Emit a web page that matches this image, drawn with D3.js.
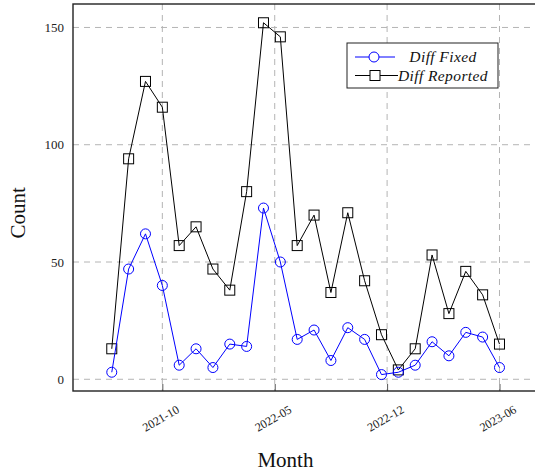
<!DOCTYPE html>
<html>
<head>
<meta charset="utf-8">
<script src="https://cdn.jsdelivr.net/npm/d3@7"></script>
<style>
  body { margin: 0; background: #fff; }
  svg { display: block; font-family: "Liberation Serif", "DejaVu Serif", serif; }
</style>
</head>
<body>
<div class="chart"></div>
<script>
////////////////////////////////// data

// one value per month, 2021-07 .. 2023-06
var months = ["2021-07","2021-08","2021-09","2021-10","2021-11","2021-12",
              "2022-01","2022-02","2022-03","2022-04","2022-05","2022-06",
              "2022-07","2022-08","2022-09","2022-10","2022-11","2022-12",
              "2023-01","2023-02","2023-03","2023-04","2023-05","2023-06"];
var diffFixed    = [3, 47, 62, 40, 6, 13, 5, 15, 14, 73, 50, 17,
                    21, 8, 22, 17, 2, 3, 6, 16, 10, 20, 18, 5];
var diffReported = [13, 94, 127, 116, 57, 65, 47, 38, 80, 152, 146, 57,
                    70, 37, 71, 42, 19, 4, 13, 53, 28, 46, 36, 15];
var xTickLabels = ["2021-10", "2022-05", "2022-12", "2023-06"];
var yTicks = [0, 50, 100, 150];
var seriesNames = ["Diff Fixed", "Diff Reported"];

////////////////////////////////// chart

var width = 535, height = 475;
var margin = { top: 4, right: -10, bottom: 84, left: 73 };
var plotW = width - margin.left - margin.right;
var plotH = height - margin.top - margin.bottom;

var svg = d3.select(".chart").append("svg")
    .attr("width", width).attr("height", height);

var g = svg.append("g")
    .attr("transform", "translate(" + margin.left + "," + margin.top + ")");

var x = d3.scaleLinear().domain([-2.3, 25.7]).range([0, plotW]);
var y = d3.scaleLinear().domain([-5, 160]).range([plotH, 0]);

// x ticks spread evenly from the first labelled month to the last
var firstIdx = months.indexOf(xTickLabels[0]);
var lastIdx = months.indexOf(xTickLabels[xTickLabels.length - 1]);
var xTicks = xTickLabels.map(function(d, i) {
    return firstIdx + i * (lastIdx - firstIdx) / (xTickLabels.length - 1);
});

// grid
g.selectAll(".hgrid").data(yTicks).enter().append("line")
    .attr("x1", 0).attr("x2", plotW)
    .attr("y1", function(d) { return y(d); }).attr("y2", function(d) { return y(d); })
    .style("stroke", "#b4b4b4").style("stroke-dasharray", "6,5");
g.selectAll(".vgrid").data(xTicks).enter().append("line")
    .attr("x1", function(d) { return x(d); }).attr("x2", function(d) { return x(d); })
    .attr("y1", 0).attr("y2", plotH)
    .style("stroke", "#b4b4b4").style("stroke-dasharray", "6,5");

// axes
var xAxis = g.append("g").attr("transform", "translate(0," + plotH + ")")
    .call(d3.axisBottom(x).tickValues(xTicks).tickSize(-7)
        .tickFormat(function(d, i) { return xTickLabels[i]; }));
xAxis.attr("font-family", null).attr("font-size", null);
xAxis.select(".domain").remove();
xAxis.selectAll(".tick line").style("stroke", "#555");
xAxis.selectAll("text")
    .style("font-size", "12px").style("fill", "#222")
    .attr("text-anchor", "middle")
    .attr("dy", null).attr("y", 0)
    .attr("transform", "translate(0,31) rotate(-30)");

var yAxis = g.append("g")
    .call(d3.axisLeft(y).tickValues(yTicks).tickSize(0).tickPadding(9));
yAxis.attr("font-family", null).attr("font-size", null);
yAxis.select(".domain").remove();
yAxis.selectAll("text").style("font-size", "13px").style("fill", "#222");

// frame
g.append("rect").attr("width", plotW).attr("height", plotH)
    .style("fill", "none").style("stroke", "#222").style("stroke-width", 1.4);

// series
var line = d3.line()
    .x(function(d, i) { return x(i); })
    .y(function(d) { return y(d); });

g.append("path").datum(diffReported).attr("d", line)
    .style("fill", "none").style("stroke", "#000").style("stroke-width", 1);
g.selectAll(".sq").data(diffReported).enter().append("rect")
    .attr("x", function(d, i) { return x(i) - 5; })
    .attr("y", function(d) { return y(d) - 5; })
    .attr("width", 10).attr("height", 10)
    .style("fill", "none").style("stroke", "#000").style("stroke-width", 1);

g.append("path").datum(diffFixed).attr("d", line)
    .style("fill", "none").style("stroke", "#0000ff").style("stroke-width", 1);
g.selectAll(".circ").data(diffFixed).enter().append("circle")
    .attr("cx", function(d, i) { return x(i); })
    .attr("cy", function(d) { return y(d); })
    .attr("r", 5)
    .style("fill", "none").style("stroke", "#0000ff").style("stroke-width", 1);

// axis titles
svg.append("text").attr("x", margin.left + x(10.3)).attr("y", 467)
    .attr("text-anchor", "middle").style("font-size", "21px").style("fill", "#111")
    .text("Month");
svg.append("text").attr("transform", "translate(25," + (margin.top + y(71)) + ") rotate(-90)")
    .attr("text-anchor", "middle").style("font-size", "21px").style("fill", "#111")
    .text("Count");

// legend
var legend = svg.append("g").attr("transform", "translate(347,43)");
legend.append("rect").attr("width", 151).attr("height", 45)
    .style("fill", "#fff").style("stroke", "#222").style("stroke-width", 1);
var colors = ["#0000ff", "#000"];
seriesNames.forEach(function(name, i) {
    var ly = 14 + i * 18.5;
    legend.append("line").attr("x1", 8).attr("x2", i ? 51 : 48)
        .attr("y1", ly).attr("y2", ly)
        .style("stroke", colors[i]).style("stroke-width", 1);
    if (i == 0) {
        legend.append("circle").attr("cx", 27).attr("cy", ly).attr("r", 5)
            .style("fill", "#fff").style("stroke", colors[i]);
    } else {
        legend.append("rect").attr("x", 23).attr("y", ly - 5).attr("width", 10).attr("height", 10)
            .style("fill", "#fff").style("stroke", colors[i]);
    }
    legend.append("text").attr("x", 96).attr("y", ly).attr("dy", "0.35em")
        .attr("text-anchor", "middle")
        .style("font-size", "15.5px").style("font-style", "italic").style("letter-spacing", "0.4px")
        .style("fill", "#111")
        .text(name);
});
</script>
</body>
</html>
